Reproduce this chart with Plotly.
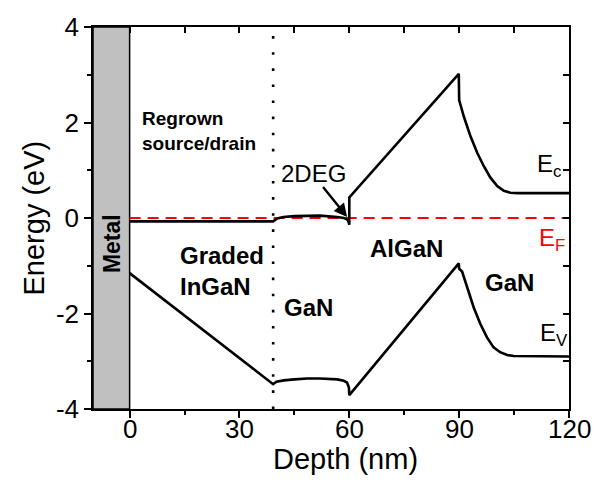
import plotly.graph_objects as go

# Conduction band edge E_c (depth in nm, energy in eV)
ec_depth = [0, 39.2, 40.3, 42, 45, 48.5, 52, 56.7, 58.5, 59.4, 59.8, 60, 60,
            89.9, 90, 91.3, 93.1, 94.9, 96.7, 98.5, 100.4, 102.2, 104, 106, 120]
ec_energy = [-0.07, -0.07, -0.01, 0.02, 0.04, 0.05, 0.05, 0.02, 0.0, -0.03, -0.08, -0.14, 0.43,
             3.02, 2.47, 2.12, 1.71, 1.37, 1.09, 0.85, 0.67, 0.57, 0.53, 0.52, 0.52]

# Valence band edge E_v
ev_depth = [0, 39.2, 40.1, 42.1, 45, 48.5, 52, 56.7, 58.5, 59.4, 59.9, 60,
            89.9, 90, 90.8, 92.2, 94.0, 95.8, 97.6, 99.4, 101.2, 103.1, 104.9, 120]
ev_energy = [-1.155, -3.48, -3.43, -3.40, -3.38, -3.36, -3.36, -3.38, -3.41, -3.45, -3.55, -3.71,
             -0.95, -1.06, -1.12, -1.47, -1.88, -2.22, -2.50, -2.71, -2.81, -2.87, -2.89, -2.90]

# Fermi level
ef_depth = [0, 120]
ef_energy = [0, 0]

# Region boundaries
metal_range = [-10, 0]
interface_depth = 39.2

x_range = [-10, 120]
y_range = [-4, 4]
x_tickvals = [0, 30, 60, 90, 120]
x_ticktext = ["0", "30", "60", "90", "120"]
y_tickvals = [-4, -2, 0, 2, 4]
y_ticktext = ["-4", "-2", "0", "2", "4"]

FONT = "Arial, Liberation Sans, sans-serif"

fig = go.Figure()

# Metal contact block
fig.add_shape(type="rect", x0=metal_range[0], x1=metal_range[1], y0=y_range[0], y1=y_range[1],
              xref="x", yref="y", fillcolor="#c0c0c0", line=dict(color="black", width=1.5),
              layer="below")

# InGaN / GaN interface
fig.add_shape(type="line", x0=interface_depth, x1=interface_depth, y0=y_range[0], y1=y_range[1],
              xref="x", yref="y", line=dict(color="black", width=2.6, dash="2.6px,13.5px"))

fig.add_trace(go.Scatter(x=ef_depth, y=ef_energy, mode="lines",
                         line=dict(color="#ff0000", width=2, dash="11px,7px"),
                         showlegend=False, hoverinfo="skip"))
fig.add_trace(go.Scatter(x=ec_depth, y=ec_energy, mode="lines",
                         line=dict(color="black", width=2.6), showlegend=False))
fig.add_trace(go.Scatter(x=ev_depth, y=ev_energy, mode="lines",
                         line=dict(color="black", width=2.6), showlegend=False))

def label(text, x, y, size, bold=False, color="black", xanchor="center", angle=0, align="center"):
    fig.add_annotation(text=f"<b>{text}</b>" if bold else text, x=x, y=y, xref="x", yref="y",
                       showarrow=False, xanchor=xanchor, yanchor="middle", textangle=angle,
                       align=align, font=dict(family=FONT, size=size, color=color))

label("Metal", -5, -0.54, 23, bold=True, angle=-90)
label("Regrown<br>source/drain", 2.9, 1.83, 19, bold=True, xanchor="left", align="left")
label("Graded<br>InGaN", 13.3, -1.12, 24, bold=True, xanchor="left", align="left")
label("GaN", 48.9, -1.88, 24, bold=True)
label("AlGaN", 75.7, -0.64, 24, bold=True)
label("GaN", 103.8, -1.36, 24, bold=True)
label("2DEG", 50.3, 0.94, 24)
label("E<sub>c</sub>", 110.8, 1.11, 24, xanchor="left")
label("E<sub>F</sub>", 111.3, -0.44, 24, color="#ff0000", xanchor="left")
label("E<sub>V</sub>", 111.5, -2.43, 24, xanchor="left")

# Arrow pointing at the 2DEG
fig.add_annotation(x=59.4, y=0.02, ax=52.5, ay=0.68, xref="x", yref="y", axref="x", ayref="y",
                   text="", showarrow=True, arrowhead=2, arrowsize=1.1, arrowwidth=2.4,
                   arrowcolor="black")

# Depth tick labels, set close under the axis
for v, t in zip(x_tickvals, x_ticktext):
    fig.add_annotation(text=t, x=v, y=-0.052, xref="x", yref="paper", showarrow=False,
                       xanchor="center", yanchor="middle",
                       font=dict(family=FONT, size=26, color="black"))

# Axis titles
fig.add_annotation(text="Depth (nm)", x=0.531, y=-0.13, xref="paper", yref="paper",
                   showarrow=False, xanchor="center", yanchor="middle",
                   font=dict(family=FONT, size=29, color="black"))
fig.add_annotation(text="Energy (eV)", x=-0.125, y=0.5, xref="paper", yref="paper",
                   showarrow=False, xanchor="center", yanchor="middle", textangle=-90,
                   font=dict(family=FONT, size=29, color="black"))

axis_common = dict(showgrid=False, zeroline=False, showline=True, linecolor="black",
                   linewidth=1.5, tickcolor="black", tickwidth=1.5)

fig.update_layout(
    width=601, height=488,
    margin=dict(l=93, r=32, t=23, b=79),
    paper_bgcolor="white", plot_bgcolor="white",
    font=dict(family=FONT, color="black"),
    xaxis=dict(range=x_range, tickmode="array", tickvals=x_tickvals, ticktext=x_ticktext,
               showticklabels=False, ticks="outside", ticklen=7,
               minor=dict(ticks="outside", ticklen=4, dtick=15, tick0=0,
                          tickcolor="black", tickwidth=1.5), **axis_common),
    yaxis=dict(range=y_range, tickmode="array", tickvals=y_tickvals, ticktext=y_ticktext,
               ticks="outside", ticklen=7, tickfont=dict(size=26),
               minor=dict(ticks="outside", ticklen=4, dtick=1, tick0=0,
                          tickcolor="black", tickwidth=1.5), **axis_common),
    xaxis2=dict(range=x_range, overlaying="x", side="top", tickmode="linear", tick0=0, dtick=15,
                ticks="inside", ticklen=6, showticklabels=False, **axis_common),
    yaxis2=dict(range=y_range, overlaying="y", side="right", tickmode="linear", tick0=0, dtick=1,
                ticks="inside", ticklen=6, showticklabels=False, **axis_common),
)

# Invisible trace binding the mirrored frame axes
fig.add_trace(go.Scatter(x=[x_range[0]], y=[y_range[0]], xaxis="x2", yaxis="y2", mode="markers",
                         marker=dict(opacity=0), showlegend=False, hoverinfo="skip"))

fig.write_html("out.html")
